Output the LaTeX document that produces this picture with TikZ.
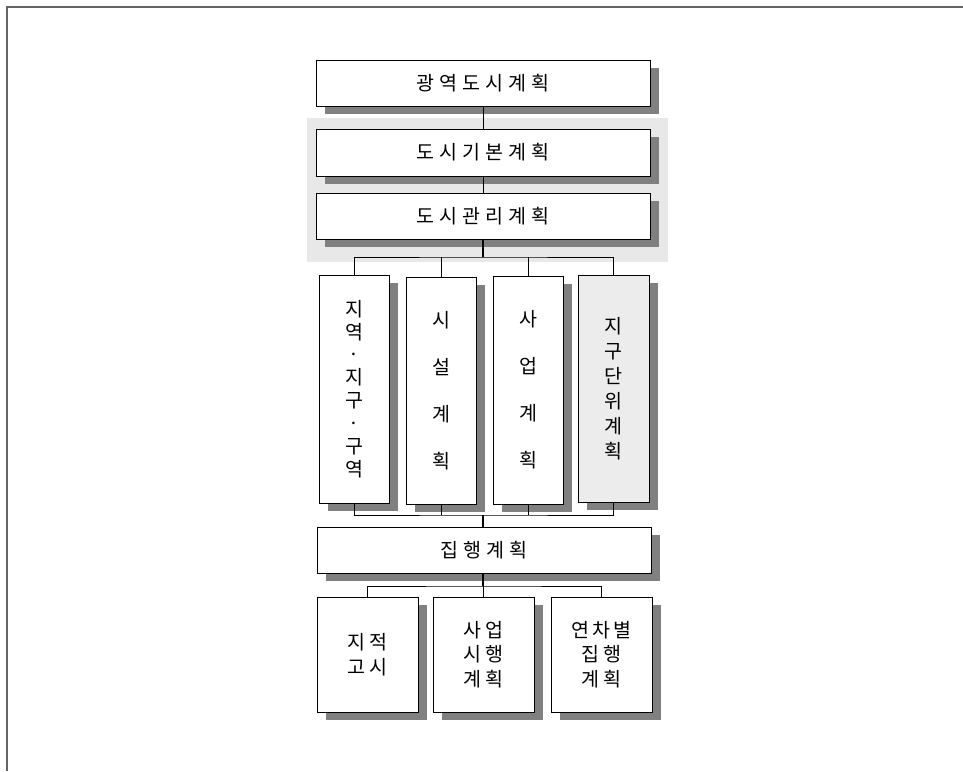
\documentclass[tikz,border=0pt]{standalone}
\usepackage{fontspec}
\newfontfamily\kr{Noto Sans CJK KR}
\usetikzlibrary{shadows}
\definecolor{shadowgray}{RGB}{128,128,128}
\definecolor{bggray}{RGB}{232,232,232}
\definecolor{dotgray}{RGB}{236,236,236}
\definecolor{framegray}{RGB}{100,100,100}
\newcommand{\gp}{\hspace{5pt}}
\newcommand{\gq}{\hspace{3.5pt}}
\tikzset{
  box/.style={draw=black, line width=0.9pt, fill=white, rectangle, inner sep=0pt,
    drop shadow={shadow xshift=9pt, shadow yshift=-8pt, opacity=1, fill=shadowgray},
    font=\kr\fontsize{19.5}{23}\selectfont, align=center},
  wire/.style={draw=black, line width=0.8pt},
  thick wire/.style={draw=black, line width=1.8pt},
}
\begin{document}
\begin{tikzpicture}[x=1pt,y=1pt]
\useasboundingbox (0,0) rectangle (963,-771);
% frame
\draw[framegray, line width=2pt] (963,-6.5) -- (6.5,-6.5) -- (6.5,-771);
% grey background panel
\fill[bggray] (307,-118) rectangle (668,-262);

% top boxes
\node[box, minimum width=334pt, minimum height=46pt] (t1) at (483,-83) {광\gp 역\gp 도\gp 시\gp 계\gp 획};
\node[box, minimum width=334pt, minimum height=47pt] (t2) at (483,-152.5) {도\gp 시\gp 기\gp 본\gp 계\gp 획};
\node[box, minimum width=334pt, minimum height=46pt] (t3) at (483,-216) {도\gp 시\gp 관\gp 리\gp 계\gp 획};

% column boxes
\node[box, minimum width=70pt, minimum height=228pt, font=\kr\fontsize{19.5}{22.9}\selectfont] (c1) at (354,-389)
  {지\\역\\·\\지\\구\\·\\구\\역};
\node[box, minimum width=70pt, minimum height=227pt, font=\kr\fontsize{19.5}{47}\selectfont] (c2) at (441,-390.5)
  {시\\설\\계\\획};
\node[box, minimum width=70pt, minimum height=228pt, font=\kr\fontsize{19.5}{47}\selectfont] (c3) at (528,-390)
  {사\\업\\계\\획};
\node[box, fill=dotgray, minimum width=71pt, minimum height=227pt, font=\kr\fontsize{19.5}{25}\selectfont] (c4) at (613.5,-388.5)
  {지\\구\\단\\위\\계\\획};

% execution plan
\node[box, minimum width=334pt, minimum height=46pt] (jh) at (484,-550) {집\gp 행\gp 계\gp 획};

% bottom boxes
\node[box, minimum width=101pt, minimum height=115pt, font=\kr\fontsize{19.5}{25}\selectfont] (b1) at (367.5,-654.5)
  {지\gq 적\\고\gq 시};
\node[box, minimum width=101pt, minimum height=115pt, font=\kr\fontsize{19.5}{24.5}\selectfont] (b2) at (483.5,-654.5)
  {사\gq 업\\시\gq 행\\계\gq 획};
\node[box, minimum width=101pt, minimum height=115pt, font=\kr\fontsize{19.5}{24.5}\selectfont] (b3) at (601.5,-654.5)
  {연\gq 차\gq 별\\집\gq 행\\계\gq 획};

% junction coordinates
\coordinate (j1) at (483,-257);
\coordinate (j2) at (483,-515);
\coordinate (j3) at (483,-586);

% connectors
\draw[wire] (t1.south -| j1) -- (t2.north -| j1);
\draw[wire] (t2.south -| j1) -- (t3.north -| j1);
\draw[thick wire] (t3.south -| j1) -- (j1);
\draw[wire] (c1.north) |- (j1) -| (c4.north);
\draw[wire] (c2.north) -- (c2.north |- j1);
\draw[wire] (c3.north) -- (c3.north |- j1);

\draw[wire] (c1.south) |- (j2) -| (c4.south);
\draw[wire] (c2.south) -- (c2.south |- j2);
\draw[wire] (c3.south) -- (c3.south |- j2);
\draw[thick wire] (j2) -- (jh.north -| j2);

\draw[thick wire] (jh.south -| j3) -- (j3);
\draw[wire] (b1.north) |- (j3) -| (b3.north);
\draw[wire] (j3) -- (b2.north -| j3);
\end{tikzpicture}
\end{document}
